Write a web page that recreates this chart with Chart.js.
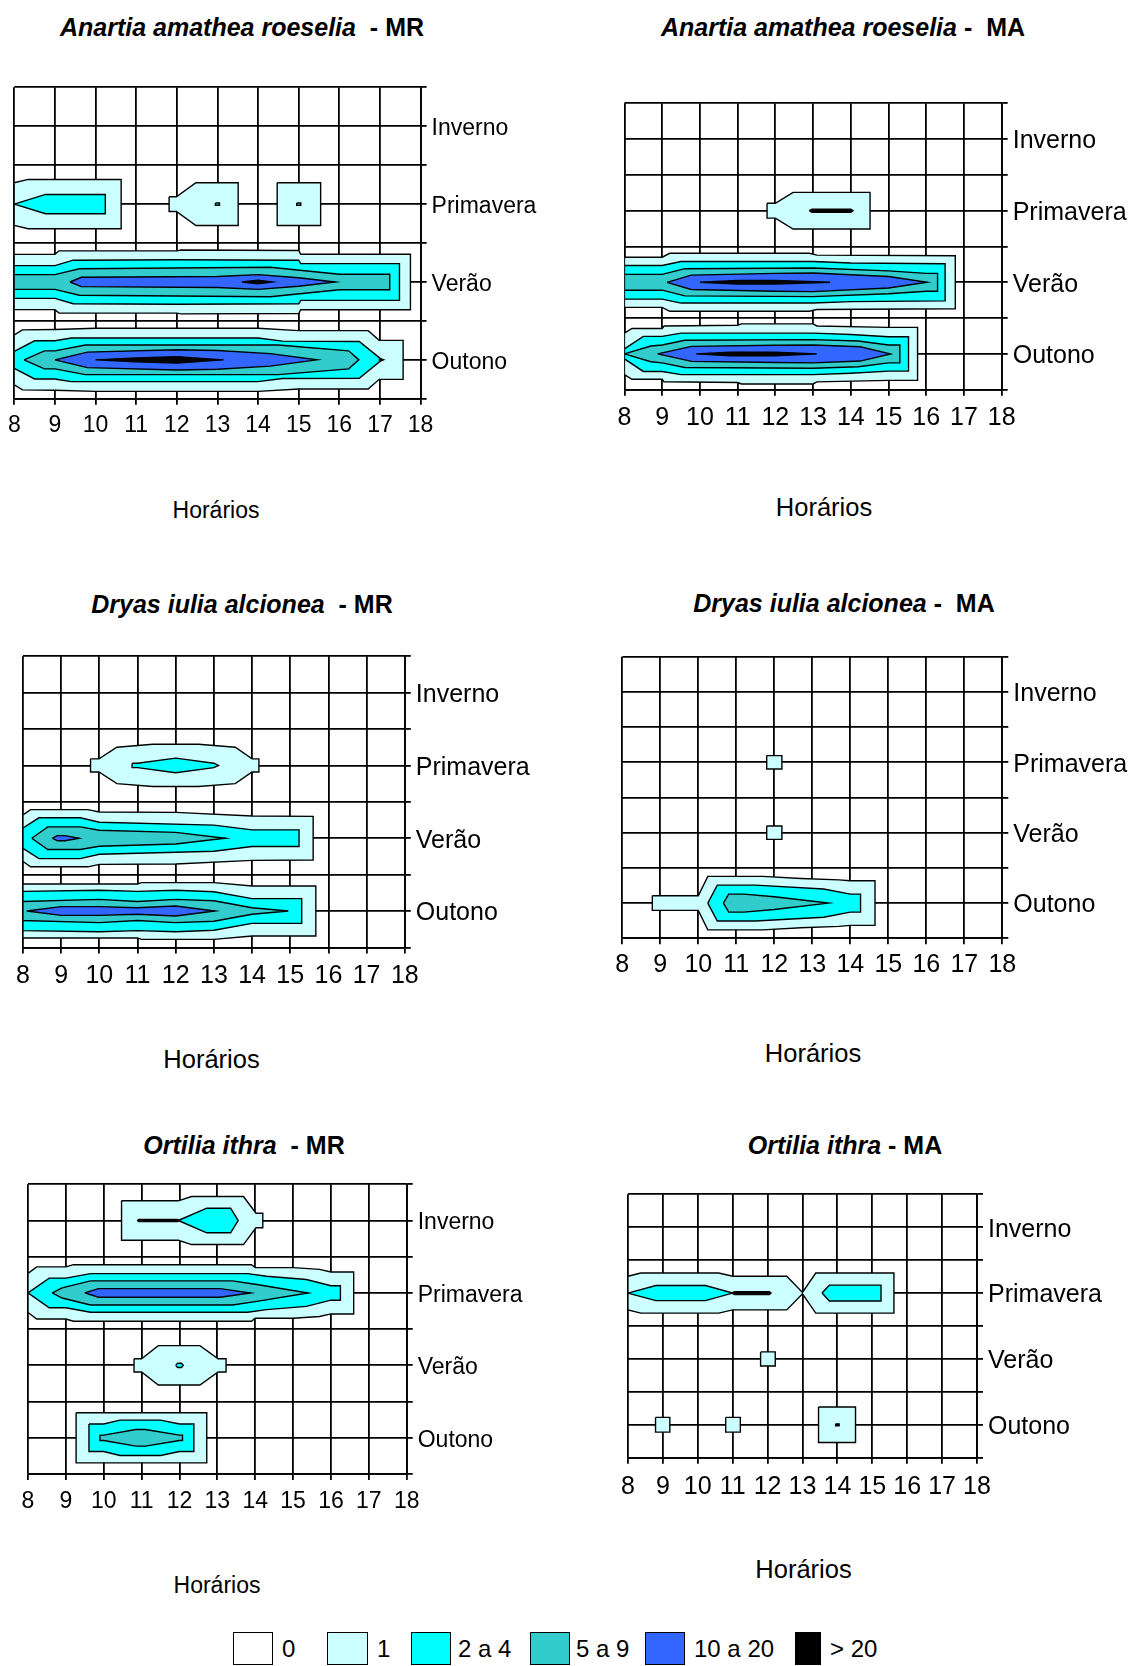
<!DOCTYPE html>
<html><head><meta charset="utf-8">
<script src="https://cdn.jsdelivr.net/npm/chart.js@4.4.0/dist/chart.umd.min.js"></script>
<style>
html,body{margin:0;padding:0;background:#fff;}
body{width:1134px;height:1666px;position:relative;overflow:hidden;font-family:"Liberation Sans",Arial,sans-serif;color:#000;}
canvas{position:absolute;}
.t{position:absolute;transform:translate(-50%,-50%);white-space:pre;font-weight:bold;font-size:25px;}
.h{position:absolute;transform:translate(-50%,-50%);white-space:pre;}
.lg{position:absolute;border:1.5px solid #000;box-sizing:border-box;top:1632px;height:33px;}
.lt{position:absolute;top:1649px;transform:translateY(-50%);font-size:24px;white-space:pre;}
</style></head><body>
<script>
// ---- data ----
const hours = [8, 9, 10, 11, 12, 13, 14, 15, 16, 17, 18];
const seasons = ['Inverno', 'Primavera', 'Verão', 'Outono'];
const levelLabels = ['0', '1', '2 a 4', '5 a 9', '10 a 20', '> 20'];
// contour bands: [season, level index, upper outline [[hour, half-height in season units], ...]]
const anartiaMR = [
  ['Primavera', 1, [[8,.274],[8.34,.317],[10.63,.317]]],
  ['Primavera', 2, [[8,0],[8.77,.124],[10.24,.124]]],
  ['Primavera', 1, [[11.81,.094],[11.99,.094],[12.47,.274],[13.51,.274]]],
  ['Primavera', 2, [[12.95,.014],[13.05,.014]]],
  ['Primavera', 1, [[14.47,.274],[15.54,.274]]],
  ['Primavera', 2, [[14.95,.014],[15.05,.014]]],
  ['Verão', 1, [[8,.355],[9,.355],[9.1,.40],[12,.40],[12.1,.41],[15,.405],[15.05,.356],[17.75,.356]]],
  ['Verão', 2, [[8,.21],[9,.21],[9.45,.28],[12,.285],[15,.28],[15.05,.236],[17.48,.236]]],
  ['Verão', 3, [[8,.095],[9,.095],[9.6,.17],[14.3,.19],[16,.10],[17.24,.10]]],
  ['Verão', 4, [[9.37,0],[9.65,.06],[13,.07],[14,.095],[15,.055],[15.9,0]]],
  ['Verão', 5, [[13.6,0],[14,.024],[14.35,0]]],
  ['Outono', 1, [[8,.32],[8.2,.385],[9,.39],[10,.405],[14,.405],[15,.375],[16.71,.375],[16.98,.25],[17.57,.25]]],
  ['Outono', 2, [[8,.11],[8.5,.245],[9,.245],[9.4,.28],[14,.28],[14.6,.24],[16.49,.236],[17.05,0]]],
  ['Outono', 3, [[8.24,0],[8.74,.116],[9,.116],[9.75,.19],[14.5,.19],[16.23,.116],[16.48,0]]],
  ['Outono', 4, [[9,0],[9.8,.10],[12,.13],[13,.12],[14.3,.08],[15.45,0]]],
  ['Outono', 5, [[10,0],[11,.024],[12,.042],[13.15,0]]],
  ['Outono', 5, [[16.97,0],[17.03,.012],[17.09,0]]]
];
const anartiaMA = [
  ['Primavera', 1, [[11.78,.104],[12.0,.104],[12.47,.256],[14.51,.256]]],
  ['Primavera', 5, [[12.9,0],[12.97,.022],[14.0,.022],[14.06,0]]],
  ['Verão', 1, [[8,.35],[9,.35],[9.2,.405],[12.9,.405],[13.1,.38],[16.77,.37]]],
  ['Verão', 2, [[8,.235],[9,.235],[9.5,.29],[13,.29],[14,.27],[16.5,.26]]],
  ['Verão', 3, [[8,.11],[9,.11],[9.6,.19],[13,.2],[15,.16],[16,.125],[16.3,.125]]],
  ['Verão', 4, [[9.13,0],[9.77,.10],[12,.125],[13,.13],[15,.08],[16.02,0]]],
  ['Verão', 5, [[10,0],[11,.025],[12,.025],[13.45,0]]],
  ['Outono', 1, [[8,.29],[8.2,.355],[9,.355],[9.05,.39],[11,.40],[11.1,.42],[13,.42],[13.1,.39],[15,.37],[15.77,.37]]],
  ['Outono', 2, [[8,.07],[8.5,.245],[9,.245],[9.5,.29],[13,.29],[14,.27],[15,.24],[15.53,.24]]],
  ['Outono', 3, [[8,0],[8.7,.11],[9,.125],[9.6,.19],[13,.2],[14.2,.18],[15,.125],[15.3,.125]]],
  ['Outono', 4, [[8.88,0],[9.78,.105],[12,.12],[13,.125],[14.25,.1],[15.05,0]]],
  ['Outono', 5, [[9.9,0],[10.8,.025],[12,.025],[13.1,0]]]
];
const dryasMR = [
  ['Primavera', 1, [[9.77,.09],[9.99,.09],[10.46,.25],[11.4,.29],[12.6,.29],[13.56,.25],[14.0,.09],[14.18,.09]]],
  ['Primavera', 2, [[10.86,.03],[11.0,.03],[12,.10],[13,.03],[13.12,0]]],
  ['Verão', 1, [[8,.32],[8.2,.393],[9.7,.393],[10,.36],[12,.355],[14,.305],[15.6,.3]]],
  ['Verão', 2, [[8,.14],[8.42,.28],[9.5,.28],[10,.22],[13,.18],[14,.115],[15.23,.115]]],
  ['Verão', 3, [[8.23,0],[8.65,.155],[9.5,.155],[10,.11],[12,.08],[13.3,0]]],
  ['Verão', 4, [[8.77,0],[8.9,.035],[9.1,.035],[9.47,0]]],
  ['Outono', 1, [[8,.37],[11,.37],[11.1,.39],[13,.39],[14,.343],[15.67,.343]]],
  ['Outono', 2, [[8,.27],[10,.285],[11,.27],[12,.285],[13,.265],[14,.17],[15.3,.17]]],
  ['Outono', 3, [[8,.13],[10,.16],[11,.13],[12,.16],[13,.14],[14,.045],[14.95,0]]],
  ['Outono', 4, [[8.1,0],[9,.06],[10,.06],[11,.045],[12,.068],[13.03,0]]]
];
const dryasMA = [
  ['Primavera', 1, [[11.8,.095],[12.2,.095]]],
  ['Verão', 1, [[11.8,.095],[12.2,.095]]],
  ['Outono', 1, [[8.79,.104],[10,.104],[10.25,.38],[11.7,.38],[12.7,.35],[13.7,.33],[14,.317],[14.65,.317]]],
  ['Outono', 2, [[10.25,0],[10.5,.255],[11.5,.255],[13.3,.2],[14,.128],[14.27,.128]]],
  ['Outono', 3, [[10.66,0],[10.8,.128],[11.2,.128],[12,.09],[13.42,0]]]
];
const ortiliaMR = [
  ['Inverno', 1, [[10.47,.272],[11.97,.272],[12.32,.332],[13.69,.332],[14.02,.10],[14.2,.10]]],
  ['Inverno', 2, [[11.97,0],[12.72,.17],[13.35,.17],[13.55,0]]],
  ['Inverno', 5, [[10.88,0],[10.93,.016],[11.95,.016],[12.0,0]]],
  ['Primavera', 1, [[8,.27],[8.23,.36],[9,.36],[9.2,.39],[13.9,.39],[14,.35],[15,.35],[15.7,.325],[16,.29],[16.6,.29]]],
  ['Primavera', 2, [[8,0],[8.56,.205],[9,.205],[9.65,.267],[13.8,.267],[14.3,.23],[15.35,.185],[16,.10],[16.25,.10]]],
  ['Primavera', 3, [[8.64,0],[8.9,.07],[9.65,.166],[13.4,.166],[14,.12],[15.4,0]]],
  ['Primavera', 4, [[9.5,0],[9.86,.06],[13.07,.06],[13.88,0]]],
  ['Verão', 1, [[10.8,.092],[11.0,.092],[11.44,.272],[12.54,.272],[13.02,.092],[13.23,.092]]],
  ['Verão', 2, [[11.9,0],[11.95,.03],[12.05,.03],[12.1,0]]],
  ['Outono', 1, [[9.27,.346],[12.72,.346]]],
  ['Outono', 2, [[9.61,.19],[10,.19],[10.43,.244],[11.5,.244],[12,.19],[12.38,.19]]],
  ['Outono', 3, [[9.9,.037],[10.0,.037],[10.85,.115],[11.1,.115],[12,.037],[12.08,.037]]]
];
const ortiliaMA = [
  ['Primavera', 1, [[8,.255],[8.37,.305],[10.6,.305],[11,.255],[12.55,.255],[13,.01],[13.38,.305],[15.62,.305]]],
  ['Primavera', 2, [[8,0],[8.8,.115],[10.22,.115],[11,0]]],
  ['Primavera', 5, [[10.98,0],[11.05,.022],[12.05,.022],[12.1,0]]],
  ['Primavera', 2, [[13.56,0],[13.77,.12],[15.25,.12]]],
  ['Verão', 1, [[11.8,.107],[12.22,.107]]],
  ['Outono', 1, [[8.79,.112],[9.2,.112]]],
  ['Outono', 1, [[10.8,.112],[11.22,.112]]],
  ['Outono', 1, [[13.46,.27],[14.52,.27]]],
  ['Outono', 5, [[13.95,.014],[14.05,.014]]]
];

// ---- styling / layout ----
const levelColors = ['#FFFFFF', '#CCFFFF', '#00FFFF', '#33CCCC', '#3366FF', '#000000'];
const FONT = '"Liberation Sans", Arial, sans-serif';
const panels = [
  {bands: anartiaMR, name: 'Anartia amathea roeselia', suffix: '  - MR', L: 14.3, R: 420.6, T: 87.3, B: 398.8, fs: 23, tp: 7, tx: 242, ty: 26.6, hx: 216, hy: 510, hf: 23},
  {bands: anartiaMA, name: 'Anartia amathea roeselia', suffix: ' -  MA', L: 624, R: 1001.7, T: 103.3, B: 389.7, fs: 25, tp: 7.5, tx: 843, ty: 26.6, hx: 824, hy: 507, hf: 25.5},
  {bands: dryasMR, name: 'Dryas iulia alcionea', suffix: '  - MR', L: 22.3, R: 404.8, T: 656.2, B: 947.4, fs: 25, tp: 8, tx: 242, ty: 603.7, hx: 211.5, hy: 1058.5, hf: 25.5},
  {bands: dryasMA, name: 'Dryas iulia alcionea', suffix: ' -  MA', L: 622.3, R: 1002.3, T: 656.7, B: 938.3, fs: 25, tp: 6, tx: 844, ty: 602.6, hx: 813, hy: 1053, hf: 25.5},
  {bands: ortiliaMR, name: 'Ortilia ithra', suffix: '  - MR', L: 28, R: 406.7, T: 1184.3, B: 1474, fs: 23, tp: 7.5, tx: 244, ty: 1144.6, hx: 217, hy: 1584.6, hf: 23},
  {bands: ortiliaMA, name: 'Ortilia ithra', suffix: ' - MA', L: 627, R: 977, T: 1194.3, B: 1457.7, fs: 25, tp: 8, tx: 845, ty: 1144.6, hx: 803.5, hy: 1568.7, hf: 25.5}
];

function polygon(season, outline) {
  const y0 = seasons.length - 1 - seasons.indexOf(season);
  const top = outline.map(([x, h]) => ({x, y: y0 + h}));
  const bot = outline.slice().reverse().map(([x, h]) => ({x, y: y0 - h}));
  if (outline[outline.length - 1][1] === 0) bot.shift();
  if (outline[0][1] === 0) bot.pop();
  const pts = top.concat(bot);
  pts.push({x: pts[0].x, y: pts[0].y});
  return pts;
}

function addDiv(cls, left, top, html, extra) {
  const d = document.createElement('div');
  d.className = cls;
  d.style.left = left + 'px';
  d.style.top = top + 'px';
  d.innerHTML = html;
  if (extra) Object.assign(d.style, extra);
  document.body.appendChild(d);
  return d;
}

const YW = 150, XH = 48, PADL = 14, PADT = 20;
panels.forEach(p => {
  const cl = Math.floor(p.L) - PADL, ct = Math.floor(p.T) - PADT;
  const pl = p.L - cl, pt = p.T - ct;
  const cw = Math.ceil(pl + (p.R - p.L) + YW + 2);
  const ch = Math.ceil(pt + (p.B - p.T) + XH + 2);
  const pr = cw - pl - (p.R - p.L) - YW;
  const pb = ch - pt - (p.B - p.T) - XH;
  const cv = document.createElement('canvas');
  cv.width = cw; cv.height = ch;
  cv.style.left = cl + 'px'; cv.style.top = ct + 'px';
  cv.style.width = cw + 'px'; cv.style.height = ch + 'px';
  document.body.appendChild(cv);

  const datasets = p.bands.map(([season, level, outline]) => ({
    data: polygon(season, outline),
    backgroundColor: levelColors[level],
    borderColor: '#000',
    borderWidth: 1.4,
    fill: 'shape',
    pointRadius: 0,
    tension: 0,
    order: -level,
    label: levelLabels[level]
  }));

  new Chart(cv, {
    type: 'line',
    data: {datasets},
    options: {
      responsive: false,
      animation: false,
      events: [],
      layout: {padding: {left: pl, top: pt, right: pr, bottom: pb}},
      plugins: {legend: {display: false}, tooltip: {enabled: false}, title: {display: false}},
      scales: {
        x: {
          type: 'linear', min: hours[0], max: hours[hours.length - 1], z: 1,
          afterBuildTicks: s => { s.ticks = hours.map(v => ({value: v})); },
          ticks: {autoSkip: false, maxRotation: 0, color: '#000', padding: p.tp,
                  font: {family: FONT, size: p.fs}, callback: v => String(v)},
          grid: {color: '#000', lineWidth: 1.8, tickLength: 6, drawTicks: true},
          border: {display: true, color: '#000', width: 1.8},
          afterFit: s => { s.height = XH; }
        },
        y: {
          type: 'linear', position: 'right', min: -0.5, max: seasons.length - 0.5, z: 1,
          ticks: {stepSize: 0.5, autoSkip: false, color: '#000', padding: 5, labelOffset: 2.5,
                  font: {family: FONT, size: p.fs},
                  callback: v => Number.isInteger(v) ? seasons[seasons.length - 1 - v] : ''},
          grid: {color: '#000', lineWidth: 1.8, tickLength: 6, drawTicks: true},
          border: {display: true, color: '#000', width: 1.8},
          afterFit: s => { s.width = YW; }
        }
      }
    }
  });

  addDiv('t', p.tx, p.ty, '<i>' + p.name + '</i>' + p.suffix);
  addDiv('h', p.hx, p.hy, 'Horários', {fontSize: p.hf + 'px'});
});

// legend
const legendBoxes = [[233, 40], [327, 41], [411, 40], [530, 40], [645, 40], [795, 26]];
const legendText = [282, 377, 458, 576, 694, 830];
levelLabels.forEach((lab, i) => {
  addDiv('lg', legendBoxes[i][0], 1632, '', {width: legendBoxes[i][1] + 'px', background: levelColors[i]});
  addDiv('lt', legendText[i], 1649, lab);
});
</script>
</body></html>
